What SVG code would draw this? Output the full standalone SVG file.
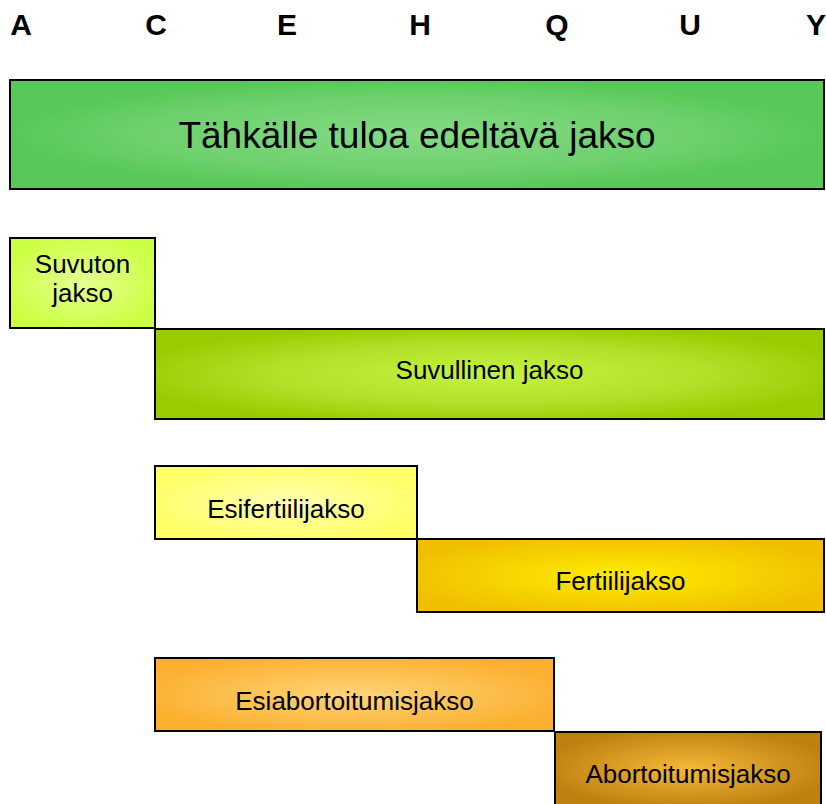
<svg xmlns="http://www.w3.org/2000/svg" width="826" height="804" viewBox="0 0 826 804">
  <defs>
    <radialGradient id="gTop" cx="0.5" cy="0.5" r="0.5">
      <stop offset="0" stop-color="#84da84"/>
      <stop offset="0.7" stop-color="#6cd06c"/>
      <stop offset="1" stop-color="#58c858"/>
    </radialGradient>
    <radialGradient id="gSuvuton" cx="0.5" cy="0.5" r="0.55">
      <stop offset="0" stop-color="#e6ff90"/>
      <stop offset="1" stop-color="#ccff44"/>
    </radialGradient>
    <radialGradient id="gSuvullinen" cx="0.5" cy="0.5" r="0.55">
      <stop offset="0" stop-color="#c4f440"/>
      <stop offset="0.6" stop-color="#b0e028"/>
      <stop offset="1" stop-color="#99cc00"/>
    </radialGradient>
    <radialGradient id="gEsifert" cx="0.5" cy="0.5" r="0.55">
      <stop offset="0" stop-color="#ffffb0"/>
      <stop offset="1" stop-color="#ffff66"/>
    </radialGradient>
    <radialGradient id="gFert" cx="0.5" cy="0.5" r="0.55">
      <stop offset="0" stop-color="#ffec00"/>
      <stop offset="1" stop-color="#f0c000"/>
    </radialGradient>
    <radialGradient id="gEsiab" cx="0.5" cy="0.5" r="0.55">
      <stop offset="0" stop-color="#ffd478"/>
      <stop offset="1" stop-color="#fbb030"/>
    </radialGradient>
    <radialGradient id="gAb" cx="0.5" cy="0.5" r="0.55">
      <stop offset="0" stop-color="#f4b838"/>
      <stop offset="1" stop-color="#c08010"/>
    </radialGradient>
  </defs>
  <style>
    .box { stroke: #000; stroke-width: 2; }
    .hdr { font-family: "Liberation Sans", Arial, sans-serif; font-weight: bold; font-size: 30px; fill: #000; text-anchor: middle; }
    .lbl { font-family: "Liberation Sans", Arial, sans-serif; font-size: 26px; fill: #000; text-anchor: middle; }
    .title { font-family: "Liberation Sans", Arial, sans-serif; font-size: 37px; fill: #000; text-anchor: middle; }
  </style>
  <rect width="826" height="804" fill="#fff"/>
  <g id="axis">
    <text class="hdr" x="21" y="35">A</text>
    <text class="hdr" x="156" y="35">C</text>
    <text class="hdr" x="287" y="35">E</text>
    <text class="hdr" x="420" y="35">H</text>
    <text class="hdr" x="557" y="35">Q</text>
    <text class="hdr" x="690" y="35">U</text>
    <text class="hdr" x="816" y="35">Y</text>
  </g>
  <g id="tahkalle">
    <rect class="box" x="10" y="80" width="814" height="109" fill="url(#gTop)"/>
    <text class="title" x="417" y="148">Tähkälle tuloa edeltävä jakso</text>
  </g>
  <g id="suvuton">
    <rect class="box" x="10" y="238" width="145" height="90" fill="url(#gSuvuton)"/>
    <text class="lbl" x="82.5" y="273">Suvuton</text>
    <text class="lbl" x="82.5" y="302">jakso</text>
  </g>
  <g id="suvullinen">
    <rect class="box" x="155" y="329" width="669" height="90" fill="url(#gSuvullinen)"/>
    <text class="lbl" x="489.5" y="379">Suvullinen jakso</text>
  </g>
  <g id="esifertiili">
    <rect class="box" x="155" y="466" width="262" height="73" fill="url(#gEsifert)"/>
    <text class="lbl" x="286" y="518">Esifertiilijakso</text>
  </g>
  <g id="fertiili">
    <rect class="box" x="417" y="539" width="407" height="73" fill="url(#gFert)"/>
    <text class="lbl" x="620.5" y="590">Fertiilijakso</text>
  </g>
  <g id="esiabortoitumis">
    <rect class="box" x="155" y="658" width="399" height="73" fill="url(#gEsiab)"/>
    <text class="lbl" x="354.5" y="710">Esiabortoitumisjakso</text>
  </g>
  <g id="abortoitumis">
    <rect class="box" x="555" y="732" width="266" height="73" fill="url(#gAb)"/>
    <text class="lbl" x="688" y="783">Abortoitumisjakso</text>
  </g>
</svg>
